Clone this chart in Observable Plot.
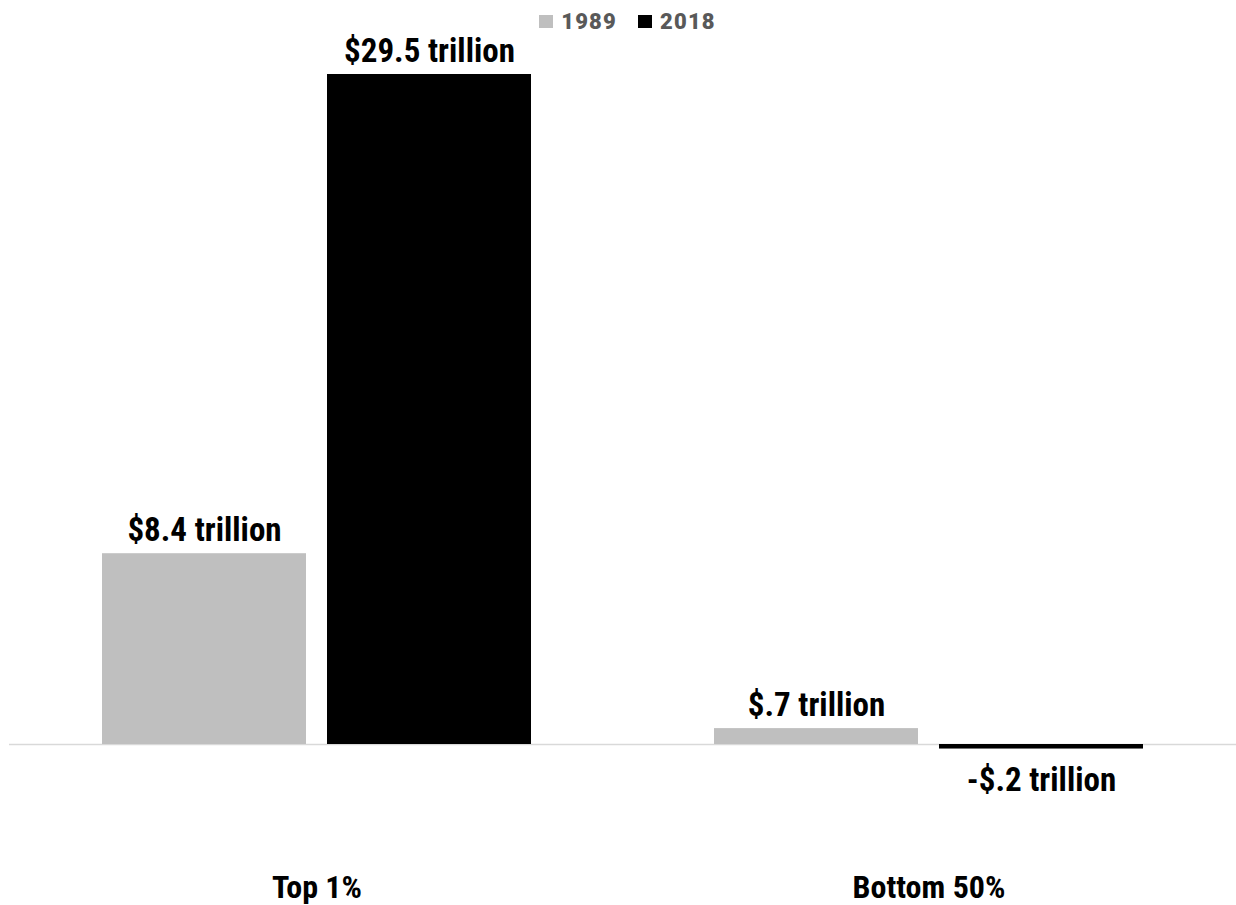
<!DOCTYPE html>
<html>
<head>
<meta charset="utf-8">
<script src="https://cdn.jsdelivr.net/npm/d3@7"></script>
<script src="https://cdn.jsdelivr.net/npm/@observablehq/plot@0.6"></script>
<style>
  html, body { margin: 0; padding: 0; background: #fff; }
  body { width: 1236px; height: 905px; overflow: hidden; font-family: "Roboto Condensed", "Liberation Sans Narrow", "DejaVu Sans Condensed", Roboto, sans-serif; }
  #legend { height: 32px; padding-top: 10px; display: flex; justify-content: center; align-items: center; gap: 21px; padding-left: 19px; box-sizing: border-box; font-family: Roboto, sans-serif; font-weight: 900; font-size: 22px; letter-spacing: 1.2px; color: #595959; }
  #legend .item { display: flex; align-items: center; gap: 8px; }
  #legend .sw { width: 14px; height: 13px; display: inline-block; }
  #chart { position: relative; width: 1236px; height: 873px; }
  #chart svg { position: absolute; top: 0; left: 0; overflow: visible; }
</style>
</head>
<body>
<div id="legend"></div>
<div id="chart"></div>
<script>
const groups = ["Top 1%", "Bottom 50%"];
const years = ["1989", "2018"];
const colors = ["#bfbfbf", "#000000"];
const values1989 = [8.4, 0.7];
const values2018 = [29.5, -0.2];
const labels1989 = ["$8.4 trillion", "$.7 trillion"];
const labels2018 = ["$29.5 trillion", "-$.2 trillion"];

const rows = [];
groups.forEach((g, i) => {
  rows.push({group: g, year: years[0], value: values1989[i], label: labels1989[i]});
  rows.push({group: g, year: years[1], value: values2018[i], label: labels2018[i]});
});
const pos = rows.filter(d => d.value >= 0);
const neg = rows.filter(d => d.value < 0);

const legend = document.getElementById("legend");
years.forEach((y, i) => {
  const item = document.createElement("div");
  item.className = "item";
  item.innerHTML = `<span class="sw" style="background:${colors[i]}"></span><span>${y}</span>`;
  legend.appendChild(item);
});

const font = `"Roboto Condensed", "Liberation Sans Narrow", "DejaVu Sans Condensed", Roboto, sans-serif`;
const W = 1236, H = 873, ML = 9, MR = 0, MT = 42, MB = 161;

// baseline spanning the full plot width
const base = Plot.plot({
  width: W, height: H, marginLeft: ML, marginRight: MR, marginTop: MT, marginBottom: MB,
  style: {background: "transparent"},
  x: {axis: null},
  y: {domain: [0, 29.5], axis: null},
  marks: [Plot.ruleY([0], {stroke: "#d9d9d9", strokeWidth: 1.5})]
});

const chart = Plot.plot({
  width: W, height: H, marginLeft: ML, marginRight: MR, marginTop: MT, marginBottom: MB,
  style: {fontFamily: font, background: "transparent"},
  fx: {domain: groups, paddingInner: 0.2953, paddingOuter: 0.1485, axis: null},
  x: {domain: years, paddingInner: 0.0925, paddingOuter: 0, axis: null},
  y: {domain: [0, 29.5], axis: null},
  color: {domain: years, range: colors},
  marks: [
    Plot.barY(rows, {fx: "group", x: "year", y: "value", fill: "year"}),
    Plot.text(pos, {fx: "group", x: "year", y: "value", text: "label", lineAnchor: "bottom", dy: -13, fontSize: 33, fontWeight: "bold", fill: "#000"}),
    Plot.text(neg, {fx: "group", x: "year", y: "value", text: "label", lineAnchor: "top", dy: 19, fontSize: 33, fontWeight: "bold", fill: "#000"}),
    Plot.axisFx({anchor: "bottom", tickSize: 0, tickPadding: 131, fontSize: 32, fontWeight: "bold", fill: "#000", label: null})
  ]
});
const holder = document.getElementById("chart");
holder.appendChild(base);
holder.appendChild(chart);
</script>
</body>
</html>
